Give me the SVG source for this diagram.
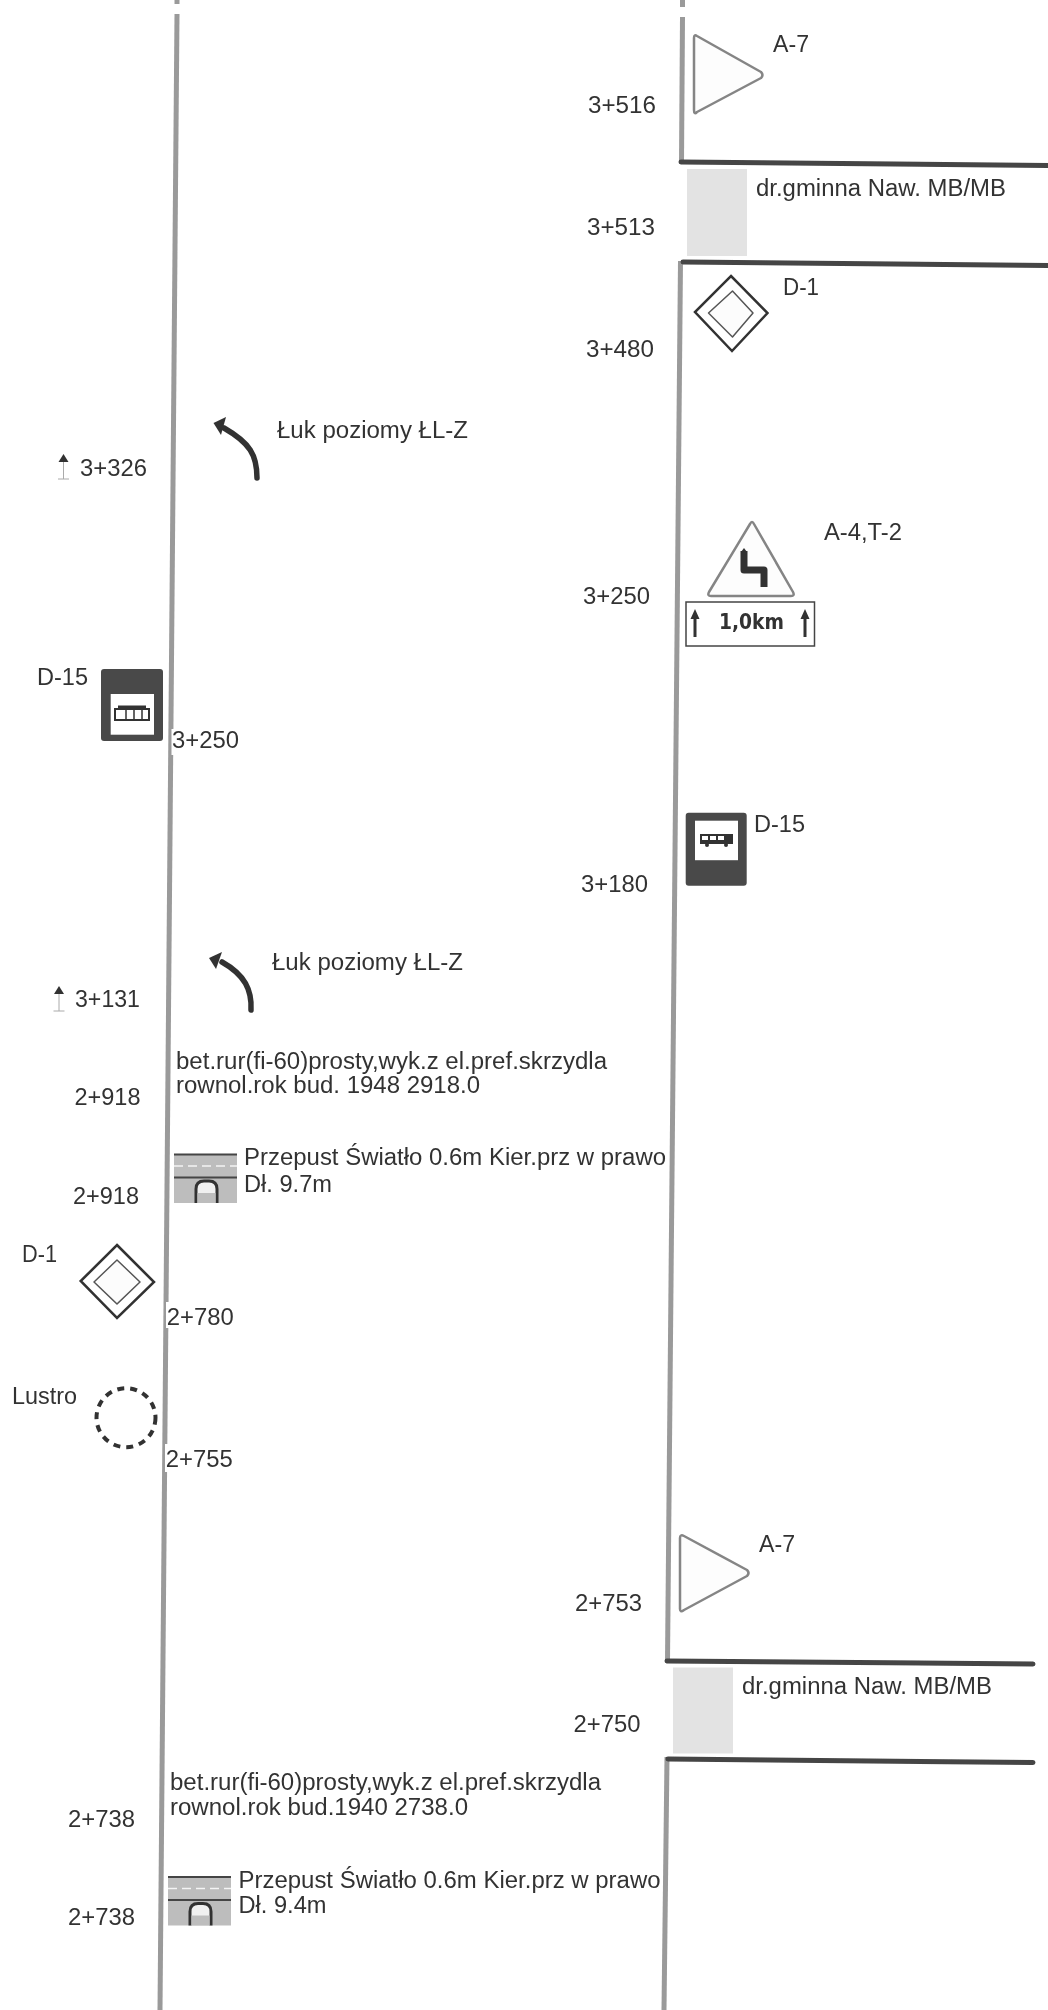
<svg xmlns="http://www.w3.org/2000/svg" width="1048" height="2010" viewBox="0 0 1048 2010">
<style>
text{font-family:"Liberation Sans",Arial,sans-serif;font-size:23px;fill:#333}
.road{fill:none;stroke:#9a9a9a;stroke-width:5}
.cross{fill:none;stroke:#444;stroke-width:5;stroke-linecap:round}
.warn{fill:#fdfdfd;stroke:#858585;stroke-width:2.500;stroke-linejoin:round}
.d1o{fill:#fff;stroke:#333;stroke-width:2.500}
.d1i{fill:#fcfcfc;stroke:#555;stroke-width:1.500;stroke-linejoin:round}
.stop{fill:#4a4a4a}
.arc{fill:none;stroke:#333;stroke-width:5.500;stroke-linecap:round}
.tk{stroke:#aaa;stroke-width:1;fill:none}
.dk{fill:#333}
.mask{fill:#fff}
</style>
<defs>
<filter id="soft" x="0" y="0" width="100%" height="100%"><feGaussianBlur stdDeviation="0.5"/></filter>
<g id="bus"><rect x="0" y="0" width="33" height="10" fill="#333"/><rect x="2" y="2" width="6" height="4" fill="#fff"/><rect x="10" y="2" width="6" height="4" fill="#fff"/><rect x="18" y="2" width="6" height="4" fill="#fff"/><circle cx="7" cy="11" r="2" fill="#333"/><circle cx="26" cy="11" r="2" fill="#333"/></g>
<g id="culvert">
<rect x="0" y="2" width="63" height="48" fill="#bdbdbd"/>
<line x1="0" y1="1.500" x2="63" y2="1.500" stroke="#444" stroke-width="2"/>
<line x1="0" y1="13" x2="63" y2="13" stroke="#f4f4f4" stroke-width="1.500" stroke-dasharray="9 5"/>
<line x1="0" y1="24.500" x2="63" y2="24.500" stroke="#444" stroke-width="2"/>
<path d="M22 50V36q0-8 8-8h5q8 0 8 8V50" fill="#f0f0f0" stroke="#333" stroke-width="3"/>
<rect x="23.500" y="40" width="18" height="10" fill="#bdbdbd"/>
</g>
<g id="mini"><path d="M-5 8L0 0L5 8Z" class="dk"/><path d="M0 8V25M-5.500 25H5.500" class="tk"/></g>
</defs>
<g filter="url(#soft)">
<g id="connectors">
<line class="road" x1="177" y1="0" x2="177" y2="4"/>
<line class="road" x1="177" y1="14" x2="160" y2="2010"/>
<line class="road" x1="682.500" y1="0" x2="682.500" y2="7"/>
<line class="road" x1="682.500" y1="17" x2="681.500" y2="162"/>
<line class="road" x1="680.500" y1="261" x2="667.500" y2="1661"/>
<line class="road" x1="667" y1="1757" x2="664" y2="2010"/>
<line class="cross" x1="681" y1="162" x2="1048" y2="165.500"/>
<line class="cross" x1="683" y1="262" x2="1048" y2="265.500"/>
<line class="cross" x1="667" y1="1661" x2="1033" y2="1664"/>
<line class="cross" x1="668" y1="1759" x2="1033" y2="1762.500"/>
</g>

<g id="km-left">
<g id="n3326"><use href="#mini" x="63.500" y="454"/><text x="80" y="475.500" textLength="67" lengthAdjust="spacingAndGlyphs">3+326</text></g>
<g id="n3250l"><rect class="mask" x="171.500" y="729" width="72" height="26"/><text x="172" y="747.500" textLength="67" lengthAdjust="spacingAndGlyphs">3+250</text></g>
<g id="n3131"><use href="#mini" x="59" y="986"/><text x="75" y="1007" textLength="65" lengthAdjust="spacingAndGlyphs">3+131</text></g>
<g id="n2918a"><text x="74.500" y="1105" textLength="66" lengthAdjust="spacingAndGlyphs">2+918</text></g>
<g id="n2918b"><text x="73" y="1204" textLength="66" lengthAdjust="spacingAndGlyphs">2+918</text></g>
<g id="n2780"><rect class="mask" x="166" y="1302" width="70" height="26"/><text x="166.700" y="1325" textLength="67" lengthAdjust="spacingAndGlyphs">2+780</text></g>
<g id="n2755"><rect class="mask" x="165" y="1444" width="70" height="28"/><text x="165.700" y="1466.500" textLength="67" lengthAdjust="spacingAndGlyphs">2+755</text></g>
<g id="n2738a"><text x="68" y="1827" textLength="67" lengthAdjust="spacingAndGlyphs">2+738</text></g>
<g id="n2738b"><text x="68" y="1925" textLength="67" lengthAdjust="spacingAndGlyphs">2+738</text></g>
</g>

<g id="km-right">
<text id="n3516" x="588" y="112.500" textLength="68" lengthAdjust="spacingAndGlyphs">3+516</text>
<text id="n3513" x="587" y="234.500" textLength="68" lengthAdjust="spacingAndGlyphs">3+513</text>
<text id="n3480" x="586" y="356.500" textLength="68" lengthAdjust="spacingAndGlyphs">3+480</text>
<text id="n3250r" x="583" y="604" textLength="67" lengthAdjust="spacingAndGlyphs">3+250</text>
<text id="n3180" x="581" y="892" textLength="67" lengthAdjust="spacingAndGlyphs">3+180</text>
<text id="n2753" x="575" y="1611" textLength="67" lengthAdjust="spacingAndGlyphs">2+753</text>
<text id="n2750" x="573.500" y="1731.500" textLength="67" lengthAdjust="spacingAndGlyphs">2+750</text>
</g>

<g id="a7-top"><path class="warn" d="M694 38Q694 34 697 36L761 72Q764 75 761 78L697 112Q694 115 694 110Z"/><text x="773" y="52" textLength="36" lengthAdjust="spacingAndGlyphs">A-7</text></g>
<g id="road-3513"><rect x="687" y="169" width="60" height="87" fill="#e3e3e3"/><text x="756" y="196" textLength="250" lengthAdjust="spacingAndGlyphs">dr.gminna Naw. MB/MB</text></g>
<g id="d1-right"><path class="d1o" d="M731 276L767.500 313L732 351L695 312Z"/><path class="d1i" d="M732.500 291L753 313L732.500 337L708.500 313Z"/><text x="783" y="294.500" textLength="36" lengthAdjust="spacingAndGlyphs">D-1</text></g>
<g id="curve-1"><path class="arc" d="M257 478C257 455 250 443 224 428"/><path class="dk" d="M213.500 423L226 417L221 435Z"/><text x="277" y="438" textLength="191" lengthAdjust="spacingAndGlyphs">Łuk poziomy ŁL-Z</text></g>
<g id="a4-t2">
<path class="warn" d="M750 524Q752 520 754 524L793 592Q795 596 791 596H711Q707 596 709 592Z"/>
<path d="M744 551V570H764V587" fill="none" stroke="#333" stroke-width="7" stroke-linejoin="round"/>
<path class="dk" d="M741 552L744 548L747 552Z"/>
<rect x="686" y="602" width="128.500" height="44" fill="#fff" stroke="#444" stroke-width="1.500"/>
<path d="M695 637V616M805 637V616" stroke="#333" stroke-width="3" fill="none"/>
<path class="dk" d="M690.500 619L695 609L699.500 619ZM800.500 619L805 609L809.500 619Z"/>
<text x="719" y="629" style="font-family:'DejaVu Sans',sans-serif;font-weight:700;font-size:20.500px" textLength="65" lengthAdjust="spacingAndGlyphs">1,0km</text>
<text x="824" y="540" textLength="78" lengthAdjust="spacingAndGlyphs">A-4,T-2</text>
</g>
<g id="d15-right"><rect class="stop" x="685.700" y="812.700" width="61" height="73" rx="3"/><rect x="695" y="820.700" width="43" height="39.500" fill="#fff"/><use href="#bus" x="700" y="834"/><text x="754" y="831.500" textLength="51" lengthAdjust="spacingAndGlyphs">D-15</text></g>
<g id="d15-left"><rect class="stop" x="101" y="669" width="62" height="72" rx="3"/><rect x="110.700" y="694" width="43.300" height="40.700" fill="#fff"/><path d="M115 709H149V720H115Z" fill="none" stroke="#333" stroke-width="2"/><path d="M118 707H146" stroke="#333" stroke-width="3"/><path d="M126 709V720M134 709V720M142 709V720" stroke="#333" stroke-width="1.500"/><text x="37" y="685" textLength="51" lengthAdjust="spacingAndGlyphs">D-15</text></g>
<g id="curve-2"><path class="arc" d="M251 1010C252 990 245 975 222 962"/><path class="dk" d="M209 958L222 952L216 969Z"/><text x="272" y="969.500" textLength="191" lengthAdjust="spacingAndGlyphs">Łuk poziomy ŁL-Z</text></g>
<g id="culvert-note-1"><text x="176" y="1069" textLength="431" lengthAdjust="spacingAndGlyphs">bet.rur(fi-60)prosty,wyk.z el.pref.skrzydla</text><text x="176" y="1093" textLength="304" lengthAdjust="spacingAndGlyphs">rownol.rok bud. 1948 2918.0</text></g>
<g id="culvert-1"><use href="#culvert" x="174" y="1153"/><text x="244" y="1165" textLength="422" lengthAdjust="spacingAndGlyphs">Przepust Światło 0.6m Kier.prz w prawo</text><text x="244" y="1192" textLength="88" lengthAdjust="spacingAndGlyphs">Dł. 9.7m</text></g>
<g id="d1-left"><path class="d1o" d="M117 1245L154 1282L117 1318L80.700 1281Z"/><path class="d1i" d="M117 1260L140 1282L117 1304L94 1282Z"/><text x="22" y="1262" textLength="35" lengthAdjust="spacingAndGlyphs">D-1</text></g>
<g id="lustro"><circle cx="126" cy="1417.700" r="29.500" fill="none" stroke="#333" stroke-width="4" stroke-dasharray="7 6"/><text x="12" y="1404" textLength="65" lengthAdjust="spacingAndGlyphs">Lustro</text></g>
<g id="a7-bottom"><path class="warn" d="M680 1538Q680 1534 684 1536L747 1570Q750 1573 747 1576L684 1610Q680 1613 680 1609Z"/><text x="759" y="1551.500" textLength="36" lengthAdjust="spacingAndGlyphs">A-7</text></g>
<g id="road-2750"><rect x="673" y="1667.500" width="60" height="86" fill="#e3e3e3"/><text x="742" y="1693.500" textLength="250" lengthAdjust="spacingAndGlyphs">dr.gminna Naw. MB/MB</text></g>
<g id="culvert-note-2"><text x="170" y="1790" textLength="431" lengthAdjust="spacingAndGlyphs">bet.rur(fi-60)prosty,wyk.z el.pref.skrzydla</text><text x="170" y="1815" textLength="298" lengthAdjust="spacingAndGlyphs">rownol.rok bud.1940 2738.0</text></g>
<g id="culvert-2"><use href="#culvert" x="168" y="1875.500"/><text x="238.500" y="1888" textLength="422" lengthAdjust="spacingAndGlyphs">Przepust Światło 0.6m Kier.prz w prawo</text><text x="238.500" y="1913" textLength="88" lengthAdjust="spacingAndGlyphs">Dł. 9.4m</text></g>
</g>
</svg>
